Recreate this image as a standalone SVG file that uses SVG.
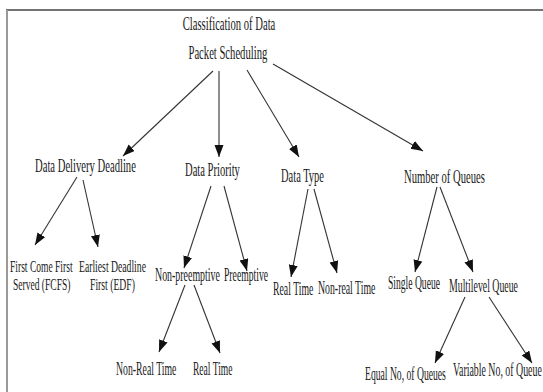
<svg xmlns="http://www.w3.org/2000/svg" width="543" height="392" viewBox="0 0 543 392">
<style>
text{font-family:"Liberation Serif","Times New Roman",serif;font-size:19px;fill:#1a1a1a}
.two{font-size:16px}
.c{stroke:#333;stroke-width:1.1;fill:none;marker-end:url(#ah)}
</style>
<defs>
<marker id="ah" markerUnits="userSpaceOnUse" markerWidth="13" markerHeight="10" refX="12" refY="4.5" orient="auto">
<path d="M0,0 L12,4.5 L0,9 z" fill="#111"/>
</marker>
</defs>
<rect width="543" height="392" fill="#fff"/>
<g id="frame">
<line x1="6" y1="10" x2="543" y2="10" stroke="#444" stroke-width="1.6"/>
<line x1="7" y1="10" x2="7" y2="392" stroke="#999" stroke-width="2"/>
</g>
<g id="connectors">
<line class="c" x1="213" y1="71" x2="123" y2="156"/>
<line class="c" x1="219" y1="71" x2="219" y2="157"/>
<line class="c" x1="247" y1="70" x2="299" y2="157"/>
<line class="c" x1="273" y1="64" x2="423" y2="151"/>
<line class="c" x1="77" y1="177" x2="35" y2="245"/>
<line class="c" x1="83" y1="180" x2="98" y2="247"/>
<line class="c" x1="211" y1="186" x2="184" y2="268"/>
<line class="c" x1="224" y1="186" x2="247" y2="271"/>
<line class="c" x1="185" y1="285" x2="159" y2="352"/>
<line class="c" x1="194" y1="285" x2="220" y2="353"/>
<line class="c" x1="308" y1="189" x2="291" y2="277"/>
<line class="c" x1="314" y1="189" x2="337" y2="273"/>
<line class="c" x1="437" y1="187" x2="415" y2="272"/>
<line class="c" x1="440" y1="187" x2="473" y2="272"/>
<line class="c" x1="465" y1="297" x2="435" y2="363"/>
<line class="c" x1="489" y1="297" x2="532" y2="363"/>
</g>
<g id="root">
<text transform="translate(229,30) scale(0.56,1)" text-anchor="middle">Classification of Data<tspan x="-2" dy="29">Packet Scheduling</tspan></text>
</g>
<g id="ddd"><text transform="translate(35,172) scale(0.56,1)">Data Delivery Deadline</text></g>
<g id="dp"><text transform="translate(185,176) scale(0.557,1)">Data Priority</text></g>
<g id="dt"><text transform="translate(281,182) scale(0.552,1)">Data Type</text></g>
<g id="noq"><text transform="translate(404,183) scale(0.56,1)">Number of Queues</text></g>
<g id="fcfs">
<text class="two" transform="translate(10,272) scale(0.597,1.1)">First Come First<tspan x="5" dy="16.36">Served (FCFS)</tspan></text>
</g>
<g id="edf">
<text class="two" transform="translate(79,272) scale(0.606,1.1)">Earliest Deadline<tspan x="18.2" dy="16.36">First (EDF)</tspan></text>
</g>
<g id="np"><text transform="translate(155,281) scale(0.522,1)">Non-preemptive</text></g>
<g id="p"><text transform="translate(224,281) scale(0.509,1)">Preemptive</text></g>
<g id="np-nrt"><text transform="translate(116,375) scale(0.514,1)">Non-Real Time</text></g>
<g id="np-rt"><text transform="translate(193,375) scale(0.502,1)">Real Time</text></g>
<g id="dt-rt"><text transform="translate(273,295) scale(0.514,1)">Real Time</text></g>
<g id="dt-nrt"><text transform="translate(318,294) scale(0.516,1)">Non-real Time</text></g>
<g id="sq"><text transform="translate(388,289) scale(0.505,1)">Single Queue</text></g>
<g id="mlq"><text transform="translate(449,292) scale(0.517,1)">Multilevel Queue</text></g>
<g id="eq"><text transform="translate(365,380) scale(0.508,1)">Equal No, of Queues</text></g>
<g id="vq"><text transform="translate(453,376) scale(0.52,1)">Variable No, of Queue</text></g>
</svg>
